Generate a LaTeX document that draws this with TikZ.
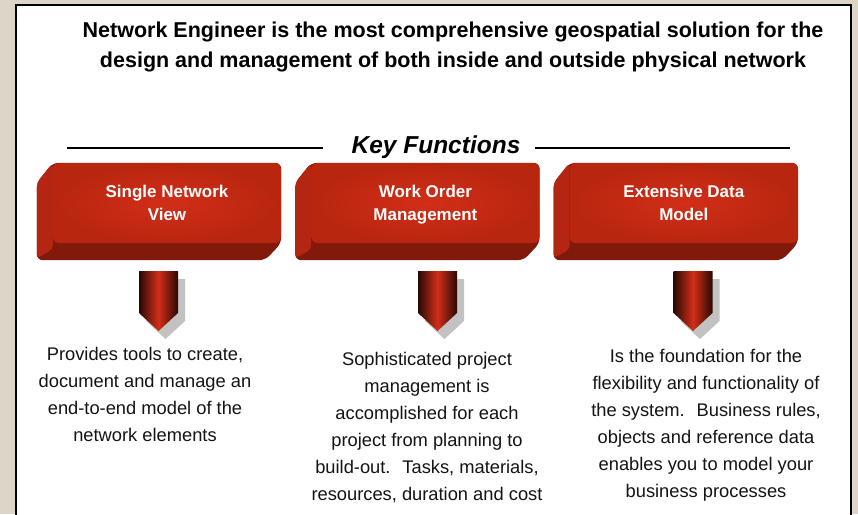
\documentclass[tikz,border=0pt]{standalone}
\usepackage{fontspec}
\setmainfont{Liberation Sans}
\usetikzlibrary{positioning,calc,backgrounds}
\definecolor{parchment}{HTML}{DDD5C7}
\definecolor{keyred}{HTML}{B8260F}
\definecolor{keylight}{HTML}{D22E18}
\definecolor{keydark}{HTML}{821A0C}
\definecolor{keyside}{HTML}{B42612}
\definecolor{tipdark}{HTML}{2A0905}
\tikzset{
	keyface/.style={
		rectangle,
		rounded corners=6pt,
		inner color=keylight,
		outer color=keyred,
		minimum width=228pt,
		minimum height=80pt,
		text=white,
		text depth=-4pt,
		font=\fontsize{17}{23}\selectfont\bfseries,
		align=center,
	},
	note/.style={
		align=center,
		inner sep=0pt,
		text=black!92,
		font=\fontsize{18.3}{27}\selectfont,
	},
	rule/.style={
		line width=2.5pt,
		draw=black,
	},
}

\begin{document}
\begin{tikzpicture}[x=1pt, y=-1pt]

	\useasboundingbox (0,0) rectangle (858,514);
	\begin{scope}[on background layer]
		\fill[parchment] (0,0) rectangle (858,514);
		\filldraw[fill=white, draw=black, line width=2pt] (16,5) rectangle (851,540);
	\end{scope}

	\node [font=\fontsize{21.5}{30}\selectfont\bfseries, align=center, anchor=base] (title) at (453,67) {Network Engineer is the most comprehensive geospatial solution for the\\design and management of both inside and outside physical network};

	\node [font=\fontsize{24.5}{28}\selectfont\bfseries\itshape, anchor=base] (kf) at (436,153) {Key Functions};
	\draw [rule] (67,148) -- (323,148);
	\draw [rule] (535,148) -- (790,148);

	\node [keyface] (snv) at (167,203) {Single Network\\View};
	\node [keyface] (wom) [right=30pt of snv] {Work Order\\Management};
	\node [keyface] (edm) [right=30pt of wom] {Extensive Data\\Model};

	% extruded base of the three boxes
	\begin{scope}[on background layer]
		\foreach \f in {snv,wom,edm} {
			\fill[keydark, rounded corners=6pt] (\f.north west) -- (\f.north east) -- (\f.south east) -- ($(\f.south east)+(-16,17)$) -- ($(\f.south west)+(-16,17)$) -- ($(\f.north west)+(-16,20)$) -- cycle;
			\fill[keyside, rounded corners=4pt] (\f.north west) -- ([yshift=-6pt]\f.south west) -- ($(\f.south west)+(-16,15)$) -- ($(\f.north west)+(-16,20)$) -- cycle;
		}
	\end{scope}

	% pointers below the boxes
	\foreach \ax in {158.5,437.5,693} {
		\fill[black!24] (\ax-12.5,279) -- ++(39,0) -- ++(0,42) -- ++(-19.5,18) -- ++(-19.5,-18) -- cycle;
		\shade[left color=tipdark, right color=tipdark, middle color=keylight] (\ax-19.5,271) -- ++(39,0) -- ++(0,42) -- ++(-19.5,18) -- ++(-19.5,-18) -- cycle;
	}

	\node [note, anchor=base] (snvnote) at (145,441) {Provides tools to create,\\document and manage an\\end-to-end model of the\\network elements};
	\node [note, anchor=base] (womnote) at (427,500) {Sophisticated project\\management is\\accomplished for each\\project from planning to\\build-out.~ Tasks, materials,\\resources, duration and cost};
	\node [note, anchor=base] (edmnote) at (706,497) {Is the foundation for the\\flexibility and functionality of\\the system.~ Business rules,\\objects and reference data\\enables you to model your\\business processes};

\end{tikzpicture}
\end{document}
